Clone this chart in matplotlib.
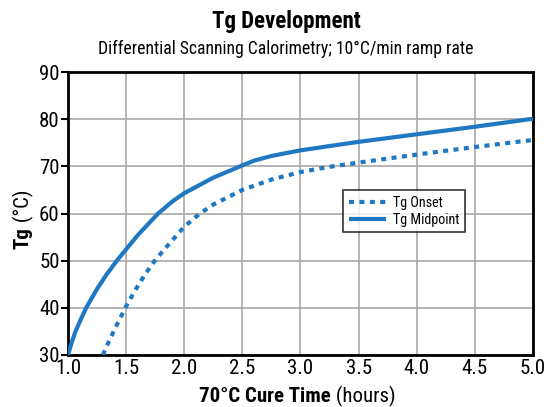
import matplotlib
matplotlib.use('Agg')
import matplotlib.pyplot as plt

plt.rcParams['font.family'] = ['Roboto Condensed', 'Liberation Sans Narrow', 'DejaVu Sans']
plt.rcParams['font.stretch'] = 'condensed'

# cure time (hours) and glass transition readings (°C)
time_mid = [1.0, 1.03, 1.06, 1.1, 1.156, 1.25, 1.33, 1.42, 1.5, 1.6, 1.775, 1.9, 2.0, 2.25, 2.5, 2.6,
            2.75, 3.0, 3.25, 3.5, 4.0, 4.5, 5.0]
tg_mid = [30, 32.5, 34.7, 37.0, 40, 44.0, 47.0, 50.0, 52.4, 55.4, 60, 62.6, 64.3, 67.6, 70.2, 71.2,
          72.2, 73.4, 74.3, 75.2, 76.8, 78.4, 80.1]

time_onset = [1.30, 1.35, 1.42, 1.5, 1.58, 1.66, 1.75, 1.85, 2.0, 2.13, 2.25, 2.5, 2.75, 3.0, 3.25,
              3.5, 4.0, 4.5, 5.0]
tg_onset = [30, 32.8, 36.4, 40.3, 43.8, 47.0, 50.1, 53.0, 57.2, 59.9, 61.9, 65.0, 67.2, 68.8, 69.9,
            70.8, 72.5, 74.1, 75.6]

xticks = [1.0, 1.5, 2.0, 2.5, 3.0, 3.5, 4.0, 4.5, 5.0]
yticks = [30, 40, 50, 60, 70, 80, 90]

blue = '#1f78c1'

fig = plt.figure(figsize=(5.47, 4.07), dpi=100)
ax = fig.add_axes([0.1243, 0.1278, 0.8501, 0.6952])

ax.plot(time_onset, tg_onset, color=blue, lw=3, ls=(0, (1.2, 1.3)),
        dash_capstyle='butt', solid_joinstyle='round', label='Tg Onset', zorder=3)
ax.plot(time_mid, tg_mid, color=blue, lw=3, solid_capstyle='butt',
        solid_joinstyle='round', label='Tg Midpoint', zorder=3)

ax.set_xlim(1.0, 5.0)
ax.set_ylim(30, 90)
ax.set_xticks(xticks)
ax.set_yticks(yticks)
ax.set_xticklabels(['%.1f' % t for t in xticks])
ax.grid(True, color='#a8a8a8', lw=1.2)
ax.set_axisbelow(True)
for sp in ax.spines.values():
    sp.set_linewidth(2)
    sp.set_color('black')
ax.tick_params(axis='y', direction='out', length=5, width=1.5, labelsize=15, pad=1)
ax.tick_params(axis='x', length=0, labelsize=15, pad=3)

leg = ax.legend(loc='upper left', bbox_to_anchor=(0.583, 0.598), fontsize=10.2,
                frameon=True, fancybox=False, edgecolor='black', handlelength=2.6,
                borderpad=0.4, labelspacing=0.2, handletextpad=0.5, borderaxespad=0.3)
leg.get_frame().set_linewidth(1.2)

# titles
fig.text(0.523, 0.948, 'Tg Development', ha='center', va='center',
         fontsize=16.5, fontweight='bold')
fig.text(0.523, 0.880, 'Differential Scanning Calorimetry; 10°C/min ramp rate',
         ha='center', va='center', fontsize=12.7)

# axis labels with a bold part and a regular part
fig.canvas.draw()
r = fig.canvas.get_renderer()
W, H = fig.bbox.width, fig.bbox.height

xb = fig.text(0, 0.025, '70°C Cure Time', ha='left', va='center',
              fontsize=15, fontweight='bold')
xn = fig.text(0, 0.025, ' (hours)', ha='left', va='center', fontsize=15)
wb = xb.get_window_extent(r).width
wn = xn.get_window_extent(r).width
x0 = 297 - (wb + wn) / 2
xb.set_x(x0 / W)
xn.set_x((x0 + wb) / W)

yb = fig.text(0.042, 0, 'Tg', rotation=90, ha='center', va='bottom',
              fontsize=15, fontweight='bold')
yn = fig.text(0.042, 0, ' (°C)', rotation=90, ha='center', va='bottom', fontsize=15)
hb = yb.get_window_extent(r).height
hn = yn.get_window_extent(r).height
y0 = (407 - 219) - (hb + hn) / 2
yb.set_y(y0 / H)
yn.set_y((y0 + hb) / H)

fig.savefig('out.png', dpi=100)
